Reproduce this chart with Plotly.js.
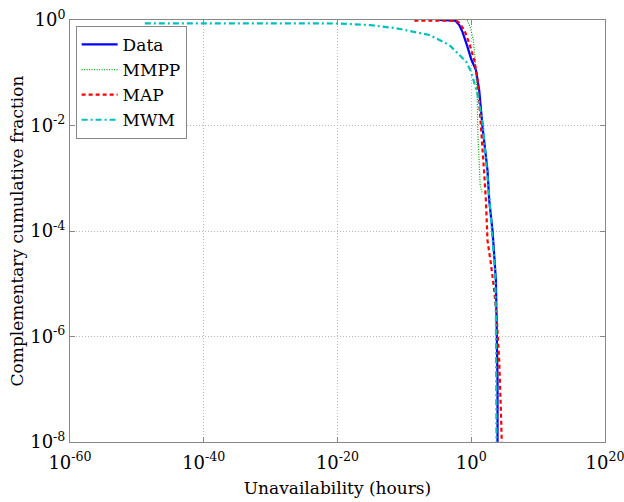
<!DOCTYPE html>
<html>
<head>
<meta charset="utf-8">
<script src="https://cdn.plot.ly/plotly-3.0.1.min.js"></script>
<style>html,body{margin:0;padding:0;background:#fff;}#chart{width:624px;height:502px;}</style>
</head>
<body>
<div id="chart"></div>
<script>
// Data
const dataX = [1.66e-5, 4.07e-3, 0.0162, 0.050, 0.251, 1.0, 5.01, 15.5, 49, 269, 490, 1514, 4898, 6918, 8511, 8511];
const dataY = [1, 0.977, 0.80, 0.59, 0.32, 0.18, 0.112, 0.047, 9.3e-3, 1.41e-3, 3.8e-4, 1.02e-4, 1.15e-5, 9.5e-7, 1.45e-7, 8e-9];

const mmppX = [0.251, 0.708, 2.0, 3.98, 5.62, 7.94, 9.33, 13.2, 21.9, 43.7];
const mmppY = [0.99, 0.736, 0.418, 0.175, 0.073, 0.0304, 8.2e-3, 2.2e-3, 7.4e-4, 5.2e-4];

const mapX = [3.1e-9, 5.75e-3, 0.0162, 0.0912, 0.501, 2.82, 8.71, 28.2, 87.1, 155, 269, 871, 2692, 6457, 15136, 26915, 38019];
const mapY = [0.977, 0.977, 0.877, 0.646, 0.361, 0.174, 0.079, 0.011, 1.23e-3, 3.8e-4, 6.6e-5, 2.4e-5, 7.6e-6, 2.24e-6, 3.5e-7, 4.1e-8, 8e-9];

const mwmX = [1.55e-49, 2.19e-29, 7.08e-21, 6.03e-16, 6.46e-12, 5.37e-7, 5.25e-4, 0.178, 0.912, 7.94, 52.5, 490, 1514, 3802, 4898, 4898, 6026];
const mwmY = [0.865, 0.865, 0.859, 0.803, 0.697, 0.520, 0.336, 0.162, 0.105, 0.0413, 0.0111, 4.47e-4, 6.76e-5, 1.58e-5, 2.4e-6, 1.74e-7, 8e-9];

const seriesNames = ['Data', 'MMPP', 'MAP', 'MWM'];

const xTickVals = [1e-60, 1e-40, 1e-20, 1, 1e20];
const xTickText = ['10<sup>-60</sup>', '10<sup>-40</sup>', '10<sup>-20</sup>', '10<sup>0</sup>', '10<sup>20</sup>'];
const yTickVals = [1e-8, 1e-6, 1e-4, 1e-2, 1];
const yTickText = ['10<sup>-8</sup>', '10<sup>-6</sup>', '10<sup>-4</sup>', '10<sup>-2</sup>', '10<sup>0</sup>'];

const FONT = 'DejaVu Serif, serif';

const traces = [
  {x: dataX, y: dataY, name: seriesNames[0], mode: 'lines', line: {color: '#0000ff', width: 2.2}},
  {x: mmppX, y: mmppY, name: seriesNames[1], mode: 'lines', line: {color: '#00a800', width: 1.2, dash: '1px,1.5px'}},
  {x: mapX, y: mapY, name: seriesNames[2], mode: 'lines', line: {color: '#ff0000', width: 2.2, dash: '4px,3px'}},
  {x: mwmX, y: mwmY, name: seriesNames[3], mode: 'lines', line: {color: '#00bfbf', width: 2.2, dash: '6px,3px,2px,3px'}}
];

const axisCommon = {
  type: 'log',
  showline: true, mirror: 'ticks', linecolor: '#888888', linewidth: 1,
  ticks: 'inside', ticklen: 5, tickcolor: '#888888',
  showgrid: true, gridcolor: '#b8b8b8', griddash: '1px,2px', gridwidth: 1,
  zeroline: false,
  ticklabeloverflow: 'allow',
  tickfont: {family: FONT, size: 18, color: '#000'}
};

const layout = {
  width: 624, height: 502,
  margin: {l: 70, r: 19, t: 20, b: 60},
  paper_bgcolor: '#fff', plot_bgcolor: '#fff',
  font: {family: FONT, color: '#000'},
  showlegend: true,
  legend: {
    x: 0.0105, y: 0.986, xanchor: 'left', yanchor: 'top',
    bgcolor: '#fff', bordercolor: '#888888', borderwidth: 1,
    itemwidth: 36,
    font: {family: FONT, size: 17, color: '#000'}
  },
  xaxis: Object.assign({}, axisCommon, {
    range: [-60, 20], tickvals: xTickVals, ticktext: xTickText,
    ticklabelstandoff: 4,
    title: {text: 'Unavailability (hours)', font: {family: FONT, size: 17}, standoff: 10}
  }),
  yaxis: Object.assign({}, axisCommon, {
    range: [-8, 0], tickvals: yTickVals, ticktext: yTickText,
    title: {text: 'Complementary cumulative fraction', font: {family: FONT, size: 17}, standoff: 2}
  })
};

Plotly.newPlot('chart', traces, layout, {displayModeBar: false, staticPlot: true});
</script>
</body>
</html>
